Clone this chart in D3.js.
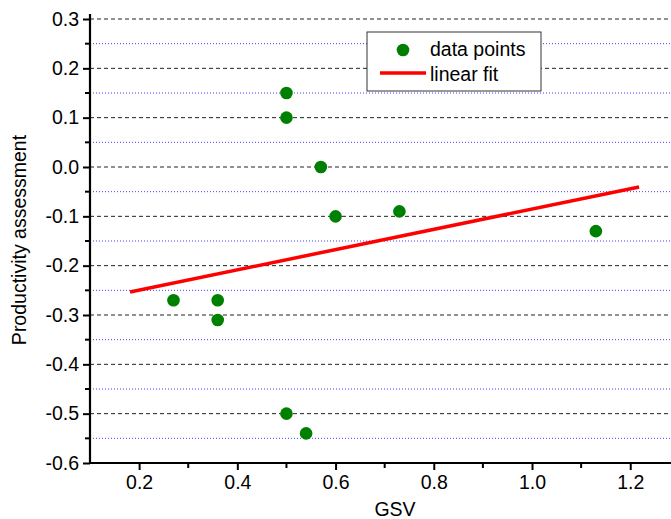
<!DOCTYPE html>
<html lang="en">
<head>
<meta charset="utf-8">
<script src="https://cdn.jsdelivr.net/npm/d3@7"></script>
<style>
  body { margin: 0; background: #fff; }
  svg { display: block; }
  text { font-family: 'Liberation Sans', Arial, sans-serif; fill: #000; }
</style>
</head>
<body>
<svg id="chart" width="671" height="519"></svg>
<script>
// data
const gsv = [0.27, 0.36, 0.36, 0.50, 0.50, 0.50, 0.54, 0.57, 0.60, 0.73, 1.13];
const productivity = [-0.27, -0.27, -0.31, 0.15, 0.10, -0.50, -0.54, 0.00, -0.10, -0.09, -0.13];
const fitX = [0.1815, 1.218];
const fitY = [-0.2534, -0.0406];
const xTicks = [0.2, 0.4, 0.6, 0.8, 1.0, 1.2];
const yTicks = [0.3, 0.2, 0.1, 0.0, -0.1, -0.2, -0.3, -0.4, -0.5, -0.6];

const WIDTH = 671, HEIGHT = 519;
const M_LEFT = 90, M_TOP = 19, M_BOTTOM = 463, M_RIGHT = 671;
const FONT = '19.5px';

const x = d3.scaleLinear().domain([0.1, 1.283]).range([M_LEFT, M_RIGHT]);
const y = d3.scaleLinear().domain([-0.6, 0.3]).range([M_BOTTOM, M_TOP]);

const svg = d3.select('#chart');

// grid lines
const majorY = yTicks.filter(v => v > -0.6);
const minorY = d3.range(-0.55, 0.3, 0.1).map(v => +v.toFixed(2));
svg.append('g').selectAll('line').data(minorY).join('line')
  .attr('x1', M_LEFT).attr('x2', M_RIGHT)
  .attr('y1', d => y(d)).attr('y2', d => y(d))
  .attr('stroke', '#4040ff').attr('stroke-width', 1)
  .attr('stroke-dasharray', '1,2');
svg.append('g').selectAll('line').data(majorY).join('line')
  .attr('x1', M_LEFT).attr('x2', M_RIGHT)
  .attr('y1', d => y(d)).attr('y2', d => y(d))
  .attr('stroke', '#222').attr('stroke-width', 1)
  .attr('stroke-dasharray', '4,3');

// axes (plain hyphen for negatives, like the original)
const fmt = d => d.toFixed(1);
const xAxis = d3.axisBottom(x).tickValues(xTicks).tickFormat(fmt).tickSize(7).tickPadding(5);
const yAxis = d3.axisLeft(y).tickValues(yTicks).tickFormat(fmt).tickSize(7).tickPadding(4);

const gx = svg.append('g').attr('transform', `translate(0,${M_BOTTOM})`).call(xAxis);
const gy = svg.append('g').attr('transform', `translate(${M_LEFT},0)`).call(yAxis);
[gx, gy].forEach(g => {
  g.select('.domain').attr('stroke-width', 2.2).attr('stroke', '#000');
  g.selectAll('.tick line').attr('stroke-width', 2).attr('stroke', '#000');
  g.selectAll('.tick text').style('font-size', FONT).style('font-family', "'Liberation Sans', Arial, sans-serif");
});
gx.select('.domain').attr('d', `M${M_LEFT},0H${M_RIGHT}`);
gy.select('.domain').attr('d', `M0,${M_BOTTOM}V${M_TOP - 5}`);

// minor ticks
const xMinor = [0.3, 0.5, 0.7, 0.9, 1.1];
gx.append('g').selectAll('line').data(xMinor).join('line')
  .attr('x1', d => x(d)).attr('x2', d => x(d)).attr('y1', 0).attr('y2', 5)
  .attr('stroke', '#000').attr('stroke-width', 2);
gy.append('g').selectAll('line').data(minorY).join('line')
  .attr('y1', d => y(d)).attr('y2', d => y(d)).attr('x1', 0).attr('x2', -5)
  .attr('stroke', '#000').attr('stroke-width', 2);

// axis labels
svg.append('text').attr('x', 395).attr('y', 516)
  .attr('text-anchor', 'middle').style('font-size', FONT).text('GSV');
svg.append('text').attr('transform', `translate(26,240) rotate(-90)`)
  .attr('text-anchor', 'middle').style('font-size', FONT).text('Productivity assessment');

// fit line
svg.append('line')
  .attr('x1', x(fitX[0])).attr('y1', y(fitY[0]))
  .attr('x2', x(fitX[1])).attr('y2', y(fitY[1]))
  .attr('stroke', '#ff0000').attr('stroke-width', 3.5);

// points
svg.append('g').selectAll('circle').data(gsv).join('circle')
  .attr('cx', d => x(d)).attr('cy', (d, i) => y(productivity[i]))
  .attr('r', 6.3).attr('fill', '#008000');

// legend
const lg = svg.append('g').attr('transform', 'translate(367,32)');
lg.append('rect').attr('width', 174).attr('height', 59)
  .attr('fill', '#fff').attr('stroke', '#333').attr('stroke-width', 1);
lg.append('circle').attr('cx', 36).attr('cy', 18).attr('r', 6.3).attr('fill', '#008000');
lg.append('line').attr('x1', 13).attr('x2', 59).attr('y1', 41).attr('y2', 41)
  .attr('stroke', '#ff0000').attr('stroke-width', 3.5);
lg.append('text').attr('x', 63).attr('y', 24).style('font-size', FONT).text('data points');
lg.append('text').attr('x', 63).attr('y', 49).style('font-size', FONT).text('linear fit');
</script>
</body>
</html>
